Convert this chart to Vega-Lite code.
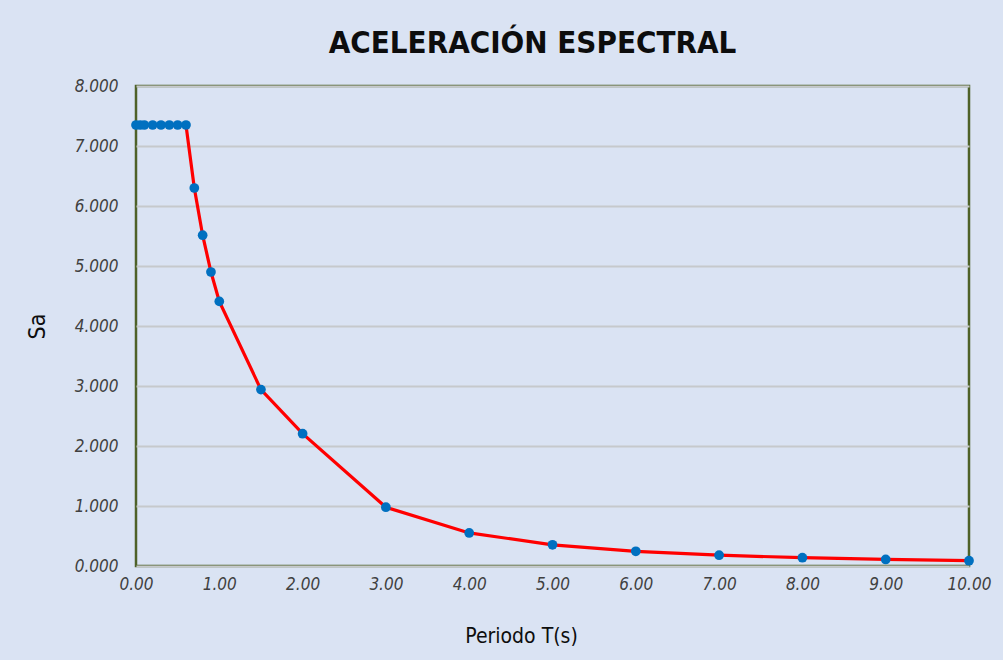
{
  "$schema": "https://vega.github.io/schema/vega-lite/v6.json",
  "autosize": "none",
  "width": 833,
  "height": 480,
  "padding": {"left": 136, "top": 86, "right": 34, "bottom": 94},
  "background": "#dae3f3",
  "config": {
    "view": {"stroke": "#4e6128", "strokeWidth": 2.5},
    "font": "DejaVu Sans Condensed, Liberation Sans, sans-serif"
  },
  "title": {
    "text": "ACELERACIÓN ESPECTRAL",
    "font": "DejaVu Sans Condensed, Liberation Sans, sans-serif",
    "fontSize": 31,
    "fontWeight": "bold",
    "color": "#0d0d0d",
    "anchor": "middle",
    "dx": -20,
    "offset": 17
  },
  "data": {
    "values": [
      {"T": 0.0, "Sa": 7.35},
      {"T": 0.05, "Sa": 7.35},
      {"T": 0.1, "Sa": 7.35},
      {"T": 0.2, "Sa": 7.35},
      {"T": 0.3, "Sa": 7.35},
      {"T": 0.4, "Sa": 7.35},
      {"T": 0.5, "Sa": 7.35},
      {"T": 0.6, "Sa": 7.35},
      {"T": 0.7, "Sa": 6.3},
      {"T": 0.8, "Sa": 5.513},
      {"T": 0.9, "Sa": 4.9},
      {"T": 1.0, "Sa": 4.41},
      {"T": 1.5, "Sa": 2.94},
      {"T": 2.0, "Sa": 2.205},
      {"T": 3.0, "Sa": 0.98},
      {"T": 4.0, "Sa": 0.551},
      {"T": 5.0, "Sa": 0.353},
      {"T": 6.0, "Sa": 0.245},
      {"T": 7.0, "Sa": 0.18},
      {"T": 8.0, "Sa": 0.138},
      {"T": 9.0, "Sa": 0.109},
      {"T": 10.0, "Sa": 0.088}
    ]
  },
  "encoding": {
    "x": {
      "field": "T",
      "type": "quantitative",
      "scale": {"domain": [0, 10], "nice": false},
      "axis": {
        "title": "Periodo T(s)",
        "values": [0, 1, 2, 3, 4, 5, 6, 7, 8, 9, 10],
        "format": ".2f",
        "grid": false,
        "domain": false,
        "ticks": false,
        "labelFlush": false,
        "labelFont": "DejaVu Sans Condensed, Liberation Sans, sans-serif",
        "labelFontStyle": "italic",
        "labelFontSize": 17,
        "labelColor": "#404040",
        "labelPadding": 10,
        "titleFont": "DejaVu Sans Condensed, Liberation Sans, sans-serif",
        "titleFontSize": 21,
        "titleFontWeight": "normal",
        "titleColor": "#0d0d0d",
        "titleX": 385,
        "titlePadding": 33
      }
    },
    "y": {
      "field": "Sa",
      "type": "quantitative",
      "scale": {"domain": [0, 8], "nice": false},
      "axis": {
        "title": "Sa",
        "values": [0, 1, 2, 3, 4, 5, 6, 7, 8],
        "format": ".3f",
        "grid": true,
        "gridColor": "#c6c9cc",
        "gridWidth": 2,
        "domain": false,
        "ticks": false,
        "labelFont": "DejaVu Sans Condensed, Liberation Sans, sans-serif",
        "labelFontStyle": "italic",
        "labelFontSize": 17,
        "labelColor": "#404040",
        "labelPadding": 18,
        "titleFont": "DejaVu Sans Condensed, Liberation Sans, sans-serif",
        "titleFontSize": 23,
        "titleFontWeight": "normal",
        "titleColor": "#0d0d0d",
        "titlePadding": 25
      }
    }
  },
  "layer": [
    {
      "mark": {"type": "line", "color": "#ff0000", "strokeWidth": 3.2}
    },
    {
      "mark": {"type": "point", "filled": true, "color": "#0070c0", "opacity": 1, "size": 95}
    }
  ]
}
